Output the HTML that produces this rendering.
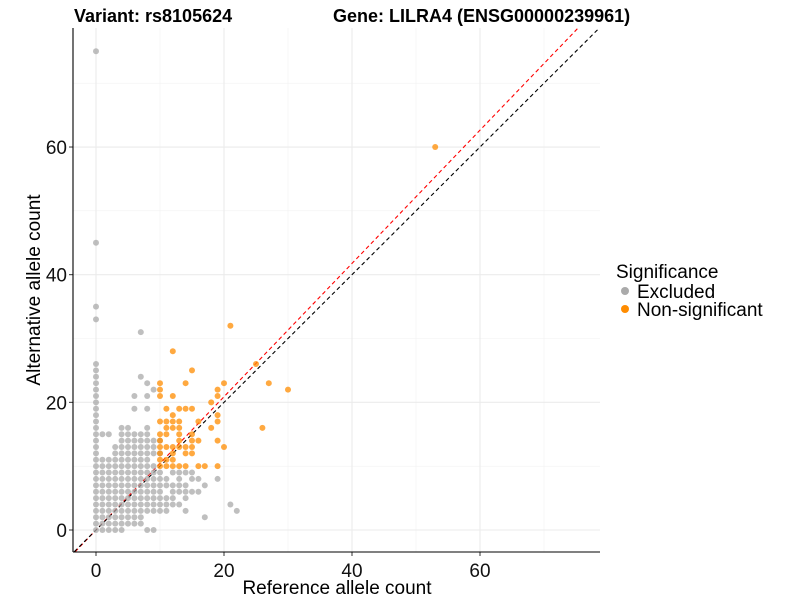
<!DOCTYPE html>
<html><head><meta charset="utf-8"><style>
body{margin:0;background:#fff;font-family:"Liberation Sans",sans-serif}
</style></head><body>
<svg id="chart" width="800" height="600" xmlns="http://www.w3.org/2000/svg" font-family="Liberation Sans, sans-serif">
<text x="74" y="22" font-size="18" font-weight="bold">Variant: rs8105624</text>
<text x="333" y="22" font-size="18" font-weight="bold">Gene: LILRA4 (ENSG00000239961)</text>
<g id="grid"></g><g id="lines"></g><g id="pts"></g><g id="axes"></g>
<text x="337" y="594" font-size="19" text-anchor="middle">Reference allele count</text>
<text transform="translate(40,290) rotate(-90)" font-size="19" text-anchor="middle">Alternative allele count</text>
<g>
<text x="616" y="278" font-size="19">Significance</text>
<circle cx="625" cy="291" r="4" fill="#aaaaaa"/>
<text x="637" y="298" font-size="19">Excluded</text>
<circle cx="625" cy="309" r="4" fill="#ff8c00"/>
<text x="637" y="316" font-size="19">Non-significant</text>
</g>
</svg>
<script>
const xTicks=[0,20,40,60];
const yTicks=[0,20,40,60];
const excludedRows=[[0,[0,1,2,3,4,8,9]],[1,[0,1,2,3,4,5,6,7]],[2,[0,1,2,3,4,5,6,7,17]],[3,[0,1,2,3,4,5,6,7,8,9,10,11,14,22]],[4,[0,1,2,3,4,5,6,7,8,9,10,11,12,13,21]],[5,[0,1,2,3,4,5,6,7,8,9,10,11,12,14]],[6,[0,1,2,3,4,5,6,7,8,9,10,12,13,14,15,16]],[7,[0,1,2,3,4,5,6,7,8,9,10,11,12,13,14,17]],[8,[0,1,2,3,4,5,6,7,8,9,10,11,13,15,16,19]],[9,[0,1,2,3,4,5,6,7,8,9,10,12,13,14,15]],[10,[0,1,2,3,4,5,6,7,8,9]],[11,[0,1,2,3,4,5,6,7,8]],[12,[0,3,4,5,6,7,8,9,10]],[13,[0,3,4,5,6,7,8,9]],[14,[0,4,5,6,7,8,9,10]],[15,[0,1,2,4,5,6,7,8]],[16,[0,4,5,8]],[17,[0]],[18,[0]],[19,[0,6,8]],[20,[0]],[21,[0,6,8]],[22,[0,9]],[23,[0,8]],[24,[0,7]],[25,[0]],[26,[0]],[31,[7]],[33,[0]],[35,[0]],[45,[0]],[75,[0]]];
const nonsigRows=[[10,[10,11,12,13,14,16,17,19]],[11,[10,11,12]],[12,[10,12,14,15]],[13,[10,11,12,13,14,15,20]],[14,[10,13,15,16,19]],[15,[10,11,13,15]],[16,[11,12,13,18,26]],[17,[10,11,12,13,16,19]],[18,[12,19]],[19,[11,13,14,15]],[20,[18]],[21,[10,12,19]],[22,[10,19,30]],[23,[10,14,20,27]],[25,[15]],[26,[25]],[28,[12]],[32,[21]],[60,[53]]];
const refLineSlope=[1.044,1.0];
const NS="http://www.w3.org/2000/svg";
const X=v=>96+v*6.4, Y=v=>530-v*6.383;
const L=73,R=600,T=28,B=552;
function mk(t,a,p){const e=document.createElementNS(NS,t);for(const k in a)e.setAttribute(k,a[k]);p.appendChild(e);return e;}
const grid=document.getElementById('grid'),axes=document.getElementById('axes');
[10,30,50,70].forEach(v=>{mk('line',{x1:X(v),x2:X(v),y1:T,y2:B,stroke:'#f2f2f2','stroke-width':0.6},grid);mk('line',{x1:L,x2:R,y1:Y(v),y2:Y(v),stroke:'#f2f2f2','stroke-width':0.6},grid);});
xTicks.forEach(v=>{const g=mk('line',{x1:X(v),x2:X(v),y1:T,y2:B,stroke:'#ebebeb','stroke-width':1.1},grid);
const t=mk('text',{x:X(v),y:577,'font-size':19,'text-anchor':'middle',fill:'#111'},axes);t.textContent=v;


mk('line',{x1:X(v),x2:X(v),y1:B,y2:B+4,stroke:'#333'},axes);});
yTicks.forEach(v=>{const g=mk('line',{x1:L,x2:R,y1:Y(v),y2:Y(v),stroke:'#ebebeb','stroke-width':1.1},grid);
const t=mk('text',{x:67,y:Y(v)+7,'font-size':19,'text-anchor':'end',fill:'#111'},axes);t.textContent=v;


mk('line',{x1:L-4,x2:L,y1:Y(v),y2:Y(v),stroke:'#333'},axes);});
const al=mk('line',{x1:L,x2:L,y1:T,y2:B,stroke:'#000','stroke-width':1.1},axes);
const bl=mk('line',{x1:L,x2:R,y1:B,y2:B,stroke:'#000','stroke-width':1.1},axes);
const pts=document.getElementById('pts');
function draw(rows,col,name){rows.forEach(([y,xs])=>xs.forEach(x=>{const c=mk('circle',{cx:X(x),cy:Y(y),r:3,fill:col,'fill-opacity':0.75},pts);

}));}
draw(excludedRows,'#aaaaaa','point-excluded');
draw(nonsigRows,'#ff8c00','point-nonsignificant');
const lines=document.getElementById('lines');
const x0=-3.6,x1=78.75,y0=-3.4,y1=78.6;
[['#ff0000',refLineSlope[0],'red-reference-line'],['#000000',refLineSlope[1],'black-reference-line']].forEach(([c,s,n])=>{
let xa=Math.max(x0,y0/s),xb=Math.min(x1,y1/s);
const l=mk('line',{x1:X(xa),y1:Y(xa*s),x2:X(xb),y2:Y(xb*s),stroke:c,'stroke-width':1.1,'stroke-dasharray':'4,3'},lines);

});
</script>
</body></html>
